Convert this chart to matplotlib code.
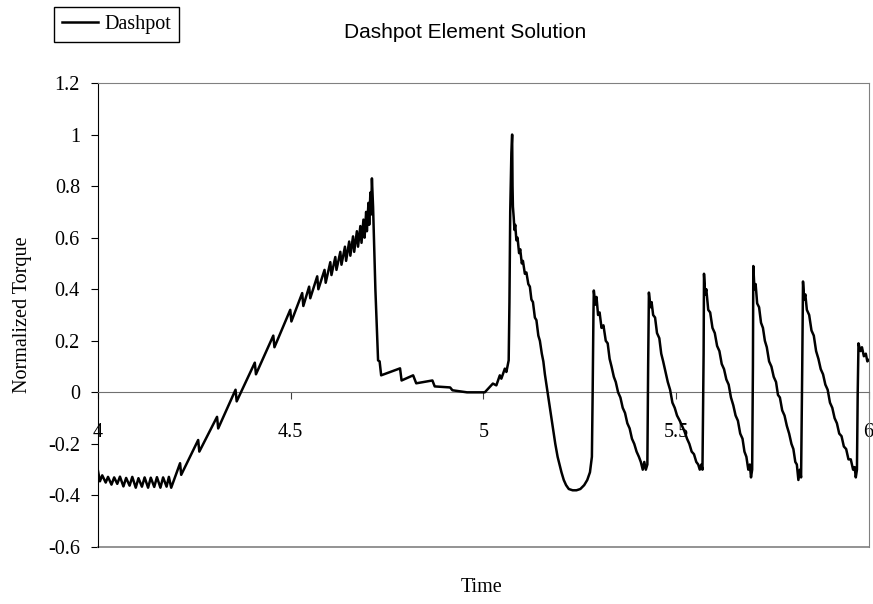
import matplotlib
matplotlib.use('Agg')
import matplotlib.pyplot as plt
from matplotlib.ticker import FixedLocator, FuncFormatter

# values
ramp_time = [4.000, 4.005, 4.011, 4.020, 4.026, 4.035, 4.042, 4.050, 4.057, 4.066, 4.073, 4.082, 4.089,
             4.098, 4.105, 4.114, 4.121, 4.130, 4.137, 4.146, 4.153, 4.162, 4.169, 4.178, 4.184, 4.190,
             4.213, 4.216, 4.260, 4.263, 4.309, 4.312, 4.357, 4.360, 4.407, 4.410, 4.455, 4.458,
             4.499, 4.502, 4.530, 4.533, 4.548, 4.551, 4.569, 4.572, 4.588, 4.591, 4.603, 4.606,
             4.616, 4.619, 4.629, 4.632, 4.641, 4.644, 4.652, 4.655, 4.662, 4.665, 4.672, 4.675,
             4.681, 4.684, 4.689, 4.692, 4.696, 4.698, 4.702, 4.704, 4.707, 4.709, 4.711]
ramp_torque = [-0.305, -0.345, -0.322, -0.350, -0.328, -0.358, -0.330, -0.355, -0.327, -0.365, -0.332, -0.362, -0.328,
               -0.370, -0.333, -0.366, -0.330, -0.370, -0.331, -0.367, -0.329, -0.370, -0.330, -0.366, -0.328, -0.370,
               -0.275, -0.320, -0.185, -0.230, -0.095, -0.140, 0.010, -0.035, 0.115, 0.070, 0.220, 0.175,
               0.320, 0.275, 0.385, 0.335, 0.410, 0.365, 0.450, 0.400, 0.475, 0.425, 0.505, 0.455,
               0.525, 0.475, 0.545, 0.495, 0.565, 0.510, 0.585, 0.530, 0.605, 0.545, 0.625, 0.565,
               0.645, 0.580, 0.670, 0.600, 0.700, 0.625, 0.735, 0.650, 0.775, 0.690, 0.830]

rest_time = [4.714, 4.720, 4.727, 4.731, 4.735, 4.784, 4.788, 4.818, 4.826, 4.868, 4.874, 4.914, 4.920,
             4.958, 5.004, 5.025, 5.034, 5.043, 5.047, 5.056, 5.060, 5.066]
rest_torque = [0.720, 0.400, 0.124, 0.120, 0.066, 0.093, 0.046, 0.066, 0.035, 0.046, 0.023, 0.019, 0.008,
               0.000, 0.000, 0.034, 0.027, 0.066, 0.053, 0.092, 0.079, 0.124]

spike_time = [5.068, 5.070, 5.073, 5.075, 5.076, 5.077, 5.079, 5.081, 5.083, 5.086, 5.089, 5.093, 5.096,
              5.100, 5.103, 5.108, 5.112, 5.117, 5.121, 5.125, 5.129, 5.134, 5.138, 5.143, 5.147, 5.152,
              5.156, 5.160, 5.164, 5.170, 5.175, 5.181, 5.187, 5.193, 5.198, 5.203, 5.209, 5.215, 5.222,
              5.232, 5.242, 5.252, 5.262, 5.270, 5.277, 5.282, 5.284, 5.286]
spike_torque = [0.35, 0.70, 0.93, 1.00, 0.80, 0.72, 0.68, 0.63, 0.65, 0.59, 0.60, 0.54, 0.555,
                0.50, 0.51, 0.46, 0.465, 0.42, 0.41, 0.36, 0.35, 0.29, 0.28, 0.22, 0.20, 0.15,
                0.12, 0.07, 0.03, -0.03, -0.08, -0.14, -0.20, -0.25, -0.28, -0.31, -0.34, -0.36, -0.375,
                -0.38, -0.38, -0.375, -0.36, -0.34, -0.31, -0.25, 0.00, 0.30]

cycle_time = [5.287, 5.291, 5.294, 5.298, 5.302, 5.307, 5.312, 5.318, 5.323, 5.328, 5.333, 5.339, 5.344,
              5.350, 5.356, 5.362, 5.368, 5.374, 5.380, 5.386, 5.392, 5.398, 5.404, 5.409, 5.414, 5.418,
              5.422, 5.426, 5.428,
              5.430, 5.434, 5.437, 5.441, 5.446, 5.451, 5.457, 5.462, 5.467, 5.473, 5.479, 5.485, 5.491,
              5.497, 5.503, 5.510, 5.516, 5.522, 5.529, 5.535, 5.541, 5.547, 5.553, 5.558, 5.562, 5.566,
              5.569, 5.572,
              5.573, 5.576, 5.579, 5.584, 5.589, 5.595, 5.601, 5.607, 5.613, 5.619, 5.625, 5.631, 5.637,
              5.643, 5.649, 5.655, 5.661, 5.667, 5.673, 5.678, 5.683, 5.688, 5.692, 5.695, 5.698, 5.700,
              5.701, 5.704, 5.707, 5.711, 5.716, 5.721, 5.726, 5.731, 5.736, 5.742, 5.748, 5.754, 5.760,
              5.765, 5.770, 5.776, 5.782, 5.788, 5.794, 5.800, 5.805, 5.810, 5.814, 5.818, 5.822, 5.825,
              5.828,
              5.830, 5.833, 5.836, 5.840, 5.846, 5.852, 5.858, 5.864, 5.870, 5.876, 5.882, 5.888, 5.894,
              5.900, 5.906, 5.912, 5.918, 5.924, 5.930, 5.936, 5.942, 5.948, 5.954, 5.960, 5.964, 5.967,
              5.970, 5.972,
              5.974, 5.979, 5.983, 5.988, 5.993, 5.997, 6.000]
cycle_torque = [0.395, 0.34, 0.37, 0.30, 0.31, 0.25, 0.26, 0.20, 0.19, 0.13, 0.10, 0.06, 0.04,
                0.00, -0.02, -0.06, -0.08, -0.12, -0.14, -0.18, -0.20, -0.23, -0.25, -0.27, -0.30, -0.27,
                -0.30, -0.28, 0.10,
                0.387, 0.33, 0.35, 0.30, 0.29, 0.23, 0.21, 0.15, 0.12, 0.08, 0.04, 0.01, -0.04,
                -0.06, -0.09, -0.11, -0.13, -0.15, -0.18, -0.20, -0.23, -0.24, -0.27, -0.28, -0.30, -0.28,
                -0.30, 0.15,
                0.46, 0.38, 0.40, 0.32, 0.31, 0.25, 0.23, 0.18, 0.16, 0.11, 0.09, 0.05, 0.03,
                -0.02, -0.05, -0.09, -0.11, -0.16, -0.18, -0.23, -0.25, -0.30, -0.28, -0.33, -0.30, 0.10,
                0.49, 0.40, 0.42, 0.345, 0.33, 0.27, 0.25, 0.20, 0.175, 0.12, 0.10, 0.06, 0.04,
                -0.01, -0.02, -0.07, -0.09, -0.13, -0.16, -0.20, -0.22, -0.27, -0.28, -0.34, -0.30, -0.33,
                0.10,
                0.43, 0.36, 0.38, 0.32, 0.30, 0.24, 0.22, 0.16, 0.13, 0.09, 0.07, 0.03, 0.01,
                -0.04, -0.06, -0.10, -0.12, -0.16, -0.17, -0.21, -0.22, -0.26, -0.26, -0.30, -0.29, -0.33,
                -0.30, 0.00,
                0.19, 0.16, 0.175, 0.14, 0.15, 0.12, 0.125]

time = ramp_time + rest_time + spike_time + cycle_time
torque = ramp_torque + rest_torque + spike_torque + cycle_torque

x_ticks = [4, 4.5, 5, 5.5, 6]
y_ticks = [-0.6, -0.4, -0.2, 0, 0.2, 0.4, 0.6, 0.8, 1.0, 1.2]

plt.rcParams['axes.unicode_minus'] = False
serif = 'Liberation Serif'
sans = 'Liberation Sans'

fig = plt.figure(figsize=(8.73, 6.04), dpi=100)
ax = fig.add_axes([98 / 873, 1 - 547 / 604, 770.5 / 873, 464 / 604])

line, = ax.plot(time, torque, color='black', lw=1.8, zorder=3, label='Dashpot')

ax.set_xlim(4, 6)
ax.set_ylim(-0.6, 1.2)

# box in grey, x axis crossing at zero
for s in ['top', 'right']:
    ax.spines[s].set_color('#808080')
ax.spines['left'].set_color('black')
ax.spines['bottom'].set_position(('data', 0))
ax.spines['bottom'].set_color('#707070')
ax.plot([0, 1], [0, 0], transform=ax.transAxes, color='#808080', lw=1.2, clip_on=False)

ax.xaxis.set_major_locator(FixedLocator(x_ticks))
ax.yaxis.set_major_locator(FixedLocator(y_ticks))
ax.xaxis.set_major_formatter(FuncFormatter(lambda v, p: '%g' % v))
ax.yaxis.set_major_formatter(FuncFormatter(lambda v, p: '%g' % round(v, 1)))
ax.tick_params(axis='x', direction='out', length=5, pad=17, labelsize=14.5, color='#404040')
ax.tick_params(axis='y', direction='out', length=5, pad=8, labelsize=14.5)
for lab in ax.get_xticklabels() + ax.get_yticklabels():
    lab.set_fontfamily(serif)

fig.text(465 / 873, 1 - 33 / 604, 'Dashpot Element Solution', ha='center', va='center',
         fontsize=15, family=sans)
fig.text(482 / 873, 1 - 588 / 604, 'Time', ha='center', va='center', fontsize=14.5, family=serif)
fig.text(23 / 873, 1 - 315 / 604, 'Normalized Torque', ha='center', va='center', rotation=90,
         fontsize=14.5, family=serif)

leg = fig.legend(handles=[line], loc='upper left', bbox_to_anchor=(54 / 873, 1 - 7 / 604),
                 frameon=True, fancybox=False, edgecolor='black', framealpha=1,
                 prop={'family': serif, 'size': 14.5}, borderpad=0.4, handlelength=1.8,
                 handletextpad=0.3, borderaxespad=0)
leg.get_frame().set_linewidth(1.0)

fig.savefig('out.png', dpi=100)
